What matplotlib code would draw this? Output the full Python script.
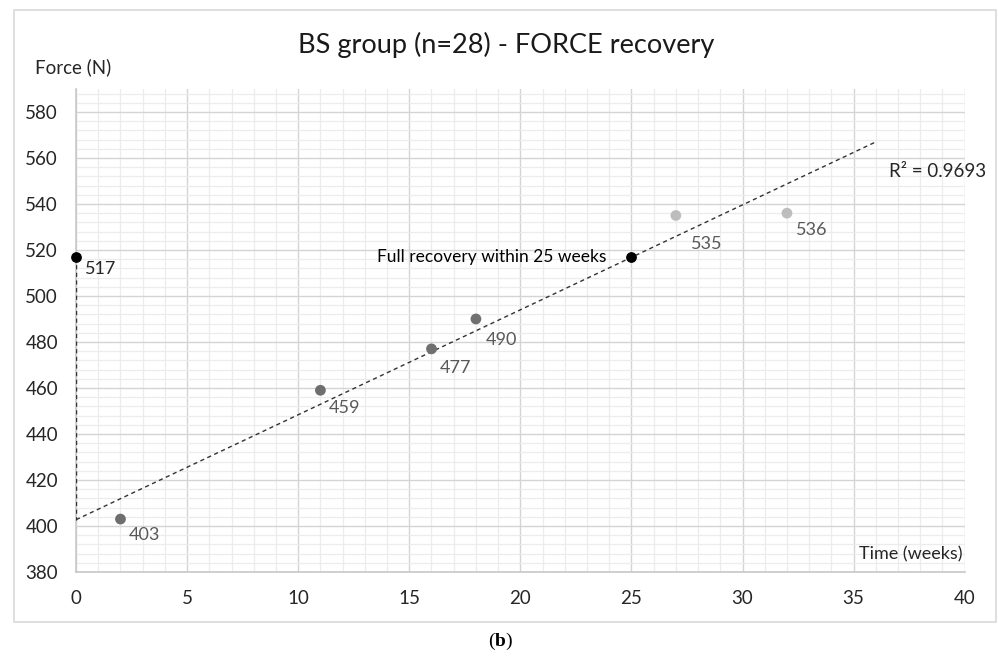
import numpy as np
import matplotlib
matplotlib.use('Agg')
import matplotlib.pyplot as plt
from matplotlib.patches import Rectangle

# weeks after surgery and mean force (N)
weeks = [2, 11, 16, 18, 27, 32]
force = [403, 459, 477, 490, 535, 536]
pointColors = ['#6e6e6e', '#6e6e6e', '#707070', '#707070', '#bdbdbd', '#bdbdbd']
#label offsets (px) from each point, as placed in the original
labelOffsets = [(8, 16), (8, 18), (8, 19), (10, 21), (15, 29), (9, 17)]

# reference (pre-op) level and the week it is reached again
baseWeek = [0, 25]
baseForce = [517, 517]

# R squared as printed on the chart
r2Label = 'R² = 0.9693'

plt.rcParams['font.family'] = ['Lato', 'DejaVu Sans']

fig = plt.figure(figsize=(9.98, 6.62), dpi=100)
ax = fig.add_axes([0.0762, 0.136, 0.8904, 0.7296])

#outer frame of the chart
fig.patches.append(Rectangle((14/998, 1-622/662), 982/998, 612/662, transform=fig.transFigure,
	fill=False, edgecolor='#d9d9d9', linewidth=1.2))

#linear trend line fitted on the recovery points
slope, intercept = np.polyfit(weeks, force, 1)
xFit = np.array([0, 36])
ax.plot(xFit, slope*xFit+intercept, color='#333333', linestyle=(0, (3, 2.5)), linewidth=1, zorder=3)
ax.plot([0, 0], [baseForce[0], intercept], color='#333333', linestyle=(0, (3, 2.5)), linewidth=1, zorder=3)

ax.scatter(weeks, force, s=60, c=pointColors, zorder=4, linewidths=0)
ax.scatter(baseWeek, baseForce, s=60, c='black', zorder=5, linewidths=0, clip_on=False)

#value labels
for w, f, off in zip(weeks, force, labelOffsets):
	ax.annotate(str(f), (w, f), xytext=(off[0]*0.72, -off[1]*0.72), textcoords='offset points', ha='left', va='center',
		fontsize=13, color='#595959')
ax.annotate(str(baseForce[0]), (baseWeek[0], baseForce[0]), xytext=(9*0.72, -12*0.72), textcoords='offset points',
	ha='left', va='center', fontsize=13, color='#262626')
ax.annotate('Full recovery within 25 weeks', (baseWeek[1], baseForce[1]), xytext=(-25*0.72, 0), textcoords='offset points',
	ha='right', va='center', fontsize=12.5, color='black')
ax.text(40.95, 554, r2Label, ha='right', va='center', fontsize=13.5, color='#262626')
ax.text(39.9, 387.5, 'Time (weeks)', ha='right', va='center', fontsize=13, color='#262626')

ax.set_xlim(0, 40)
ax.set_ylim(380, 590)
ax.set_xticks(range(0, 41, 5))
ax.set_xticks(range(0, 41), minor=True)
ax.set_yticks(range(380, 581, 20))
ax.set_yticks(range(380, 591, 4), minor=True)
ax.grid(which='major', color='#d4d4d4', linewidth=1)
ax.grid(which='minor', color='#ececec', linewidth=0.9)
ax.set_axisbelow(True)
ax.tick_params(which='both', length=0, labelsize=13.5, labelcolor='#262626')
ax.tick_params(axis='x', pad=13)
ax.tick_params(axis='y', pad=13)
for side in ['top', 'right']:
	ax.spines[side].set_visible(False)
for side in ['left', 'bottom']:
	ax.spines[side].set_color('#c8c8c8')
	ax.spines[side].set_linewidth(1.2)

fig.text(506/998, 1-45/662, 'BS group (n=28) - FORCE recovery', ha='center', va='center', fontsize=19.5, color='#1a1a1a')
fig.text(35/998, 1-67/662, 'Force (N)', ha='left', va='center', fontsize=13.5, color='#262626')

#panel letter, b in bold
fig.text(495/998, 1-641/662, '(', ha='right', va='center', fontsize=14, family='Liberation Serif')
fig.text(495/998, 1-641/662, 'b', ha='left', va='center', fontsize=14, family='Liberation Serif', fontweight='bold')
fig.text(505/998, 1-641/662, ')', ha='left', va='center', fontsize=14, family='Liberation Serif')

plt.savefig('out.png', dpi=100)
